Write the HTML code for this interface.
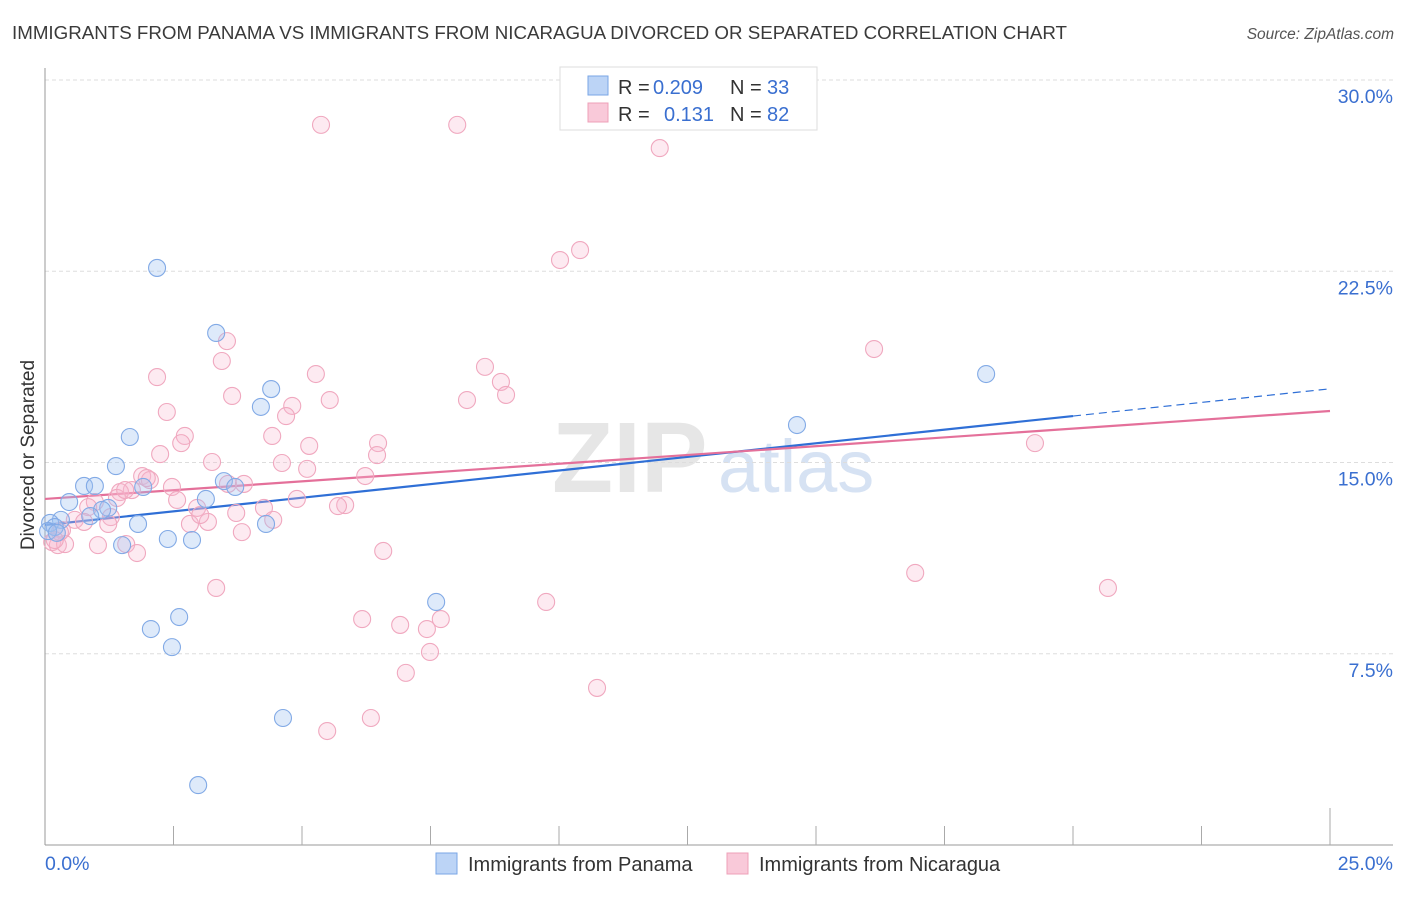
<!DOCTYPE html>
<html><head><meta charset="utf-8"><style>
body{margin:0;background:#fff;font-family:"Liberation Sans",sans-serif}
svg text{font-family:"Liberation Sans",sans-serif}
</style></head><body>
<svg id="chart" width="1406" height="892" xmlns="http://www.w3.org/2000/svg">
<text x="12" y="39" font-size="18.7" fill="#3a3a3a" textLength="1055" lengthAdjust="spacingAndGlyphs">IMMIGRANTS FROM PANAMA VS IMMIGRANTS FROM NICARAGUA DIVORCED OR SEPARATED CORRELATION CHART</text>
<text x="1394" y="39" font-size="15.5" fill="#555" text-anchor="end" font-style="italic">Source: ZipAtlas.com</text>
<g>
<text x="552" y="492" font-size="100" fill="#e6e6e6" font-family="Liberation Serif" font-weight="bold">ZIP</text>
<text x="718" y="492" font-size="74" fill="#d6e2f3">atlas</text>
</g>
<g id="grid"></g>
<g id="axes"></g>
<g id="trend"></g>
<g id="points"></g>
<text transform="translate(34,455) rotate(-90)" font-size="19" fill="#333" text-anchor="middle">Divorced or Separated</text>
<g>
<rect x="560" y="67" width="257" height="63" fill="#fff" stroke="#ddd"/>
<rect x="588" y="76" width="20" height="19" fill="#bcd4f6" stroke="#7aa6e6"/>
<text x="618" y="94" font-size="20" fill="#333">R =</text>
<text x="653" y="94" font-size="20" fill="#3a6fd0">0.209</text>
<text x="730" y="94" font-size="20" fill="#333">N =</text>
<text x="767" y="94" font-size="20" fill="#3a6fd0">33</text>
<rect x="588" y="103" width="20" height="19" fill="#f9c9d9" stroke="#eea0b8"/>
<text x="618" y="121" font-size="20" fill="#333">R =</text>
<text x="664" y="121" font-size="20" fill="#3a6fd0">0.131</text>
<text x="730" y="121" font-size="20" fill="#333">N =</text>
<text x="767" y="121" font-size="20" fill="#3a6fd0">82</text>
</g>
<g>
<rect x="436" y="853" width="21" height="21" fill="#bcd4f6" stroke="#7aa6e6"/>
<text x="468" y="871" font-size="20" fill="#333">Immigrants from Panama</text>
<rect x="727" y="853" width="21" height="21" fill="#f9c9d9" stroke="#eea0b8"/>
<text x="759" y="871" font-size="20" fill="#333">Immigrants from Nicaragua</text>
</g>
</svg>
<script>
const yTicks=[7.5,15,22.5,30];
const yTickLabels=["7.5%","15.0%","22.5%","30.0%"];
const xEndLabels=["0.0%","25.0%"];
const panamaX=[2.18,3.33,4.40,4.20,1.65,1.38,0.76,0.97,1.91,3.48,3.70,3.13,0.47,1.23,1.11,0.88,0.31,0.10,0.19,0.06,0.23,1.81,4.30,2.39,2.86,1.50,7.61,2.61,2.06,2.47,4.63,2.98,14.63,18.31];
const panamaY=[22.63,20.08,17.88,17.18,16.00,14.86,14.08,14.08,14.04,14.27,14.04,13.57,13.45,13.22,13.14,12.90,12.75,12.63,12.47,12.31,12.24,12.59,12.59,12.00,11.96,11.76,9.53,8.94,8.47,7.76,4.98,2.35,16.47,18.47];
const nicX=[5.37,8.02,11.96,10.41,10.02,16.13,3.54,3.44,2.18,8.56,8.87,5.27,3.64,4.81,5.54,8.21,8.97,2.37,4.69,2.72,4.42,2.65,5.14,6.48,2.24,3.25,6.46,4.61,5.10,6.23,1.89,2.04,1.69,1.46,2.47,3.56,3.87,4.90,2.57,0.97,1.40,0.84,2.96,4.26,5.84,5.70,1.28,0.58,0.76,2.82,3.17,3.72,4.44,1.23,0.33,0.14,0.25,0.39,1.03,1.58,1.79,3.83,6.58,3.33,16.93,20.68,19.26,9.75,6.17,6.91,7.70,7.43,7.49,7.02,10.74,6.34,5.49,0.29,1.56,1.98,0.19,3.02];
const nicY=[28.24,28.24,27.33,23.33,22.94,19.45,19.76,18.98,18.35,18.75,18.16,18.47,17.61,17.22,17.45,17.45,17.65,16.98,16.82,16.04,16.04,15.76,15.65,15.76,15.33,15.02,15.29,14.98,14.75,14.47,14.47,14.31,13.92,13.84,14.04,14.16,14.16,13.57,13.53,13.45,13.61,13.25,13.22,13.22,13.33,13.29,12.86,12.75,12.67,12.59,12.67,13.02,12.75,12.59,12.35,11.88,11.76,11.80,11.76,11.80,11.45,12.27,11.53,10.08,10.67,10.08,15.76,9.53,8.86,8.63,8.86,8.47,7.57,6.75,6.16,4.98,4.47,12.27,13.92,14.39,11.96,12.94];
const panamaTrend=[12.55,17.89];
const panamaSolidEnd=20;
const nicTrend=[13.57,17.02];
const NS="http://www.w3.org/2000/svg";
const X=v=>45+v*51.4, Y=v=>845-v*25.5;
function mk(tag,attrs,parent){const e=document.createElementNS(NS,tag);for(const k in attrs)e.setAttribute(k,attrs[k]);parent.appendChild(e);return e;}
const grid=document.getElementById('grid'),axes=document.getElementById('axes'),trend=document.getElementById('trend'),pts=document.getElementById('points');
yTicks.forEach((t,i)=>{
 const l=mk('line',{x1:45,x2:1393,y1:Y(t),y2:Y(t),stroke:'#ddd','stroke-dasharray':'4,3'},grid);
 
 
 const tx=mk('text',{x:1393,y:Y(t)+23,'font-size':19.5,fill:'#3a6fd0','text-anchor':'end'},axes);
 tx.textContent=yTickLabels[i];
 
 
});
mk('line',{x1:45,x2:45,y1:68,y2:845,stroke:'#999'},axes);
mk('line',{x1:45,x2:1393,y1:845,y2:845,stroke:'#999'},axes);
for(let i=1;i<=10;i++){const v=i*2.5;const tk=mk('line',{x1:X(v),x2:X(v),y1:845,y2:i==10?808:826,stroke:'#aaa'},axes);
 
 }
const xl0=mk('text',{x:45,y:870,'font-size':19.5,fill:'#3a6fd0'},axes);xl0.textContent=xEndLabels[0];


const xl1=mk('text',{x:1393,y:870,'font-size':19.5,fill:'#3a6fd0','text-anchor':'end'},axes);xl1.textContent=xEndLabels[1];


function drawPts(xs,ys,fill,stroke,name){xs.forEach((x,i)=>{const c=mk('circle',{cx:X(x),cy:Y(ys[i]),r:8.5,fill:fill,stroke:stroke,'stroke-width':1.1},pts);
 
 });}
drawPts(nicX,nicY,'rgba(248,187,208,0.3)','#f0a8bf','nicaragua-point');
drawPts(panamaX,panamaY,'rgba(160,196,240,0.35)','#82aae6','panama-point');
const pAt=x=>panamaTrend[0]+(panamaTrend[1]-panamaTrend[0])*x/25;
const t1=mk('line',{x1:X(0),y1:Y(pAt(0)),x2:X(panamaSolidEnd),y2:Y(pAt(panamaSolidEnd)),stroke:'#2f6fd6','stroke-width':2.2},trend);


const t2=mk('line',{x1:X(panamaSolidEnd),y1:Y(pAt(panamaSolidEnd)),x2:X(25),y2:Y(pAt(25)),stroke:'#2f6fd6','stroke-width':1.2,'stroke-dasharray':'8,5'},trend);


const t3=mk('line',{x1:X(0),y1:Y(nicTrend[0]),x2:X(25),y2:Y(nicTrend[1]),stroke:'#e4709a','stroke-width':2.2},trend);


</script>
</body></html>
